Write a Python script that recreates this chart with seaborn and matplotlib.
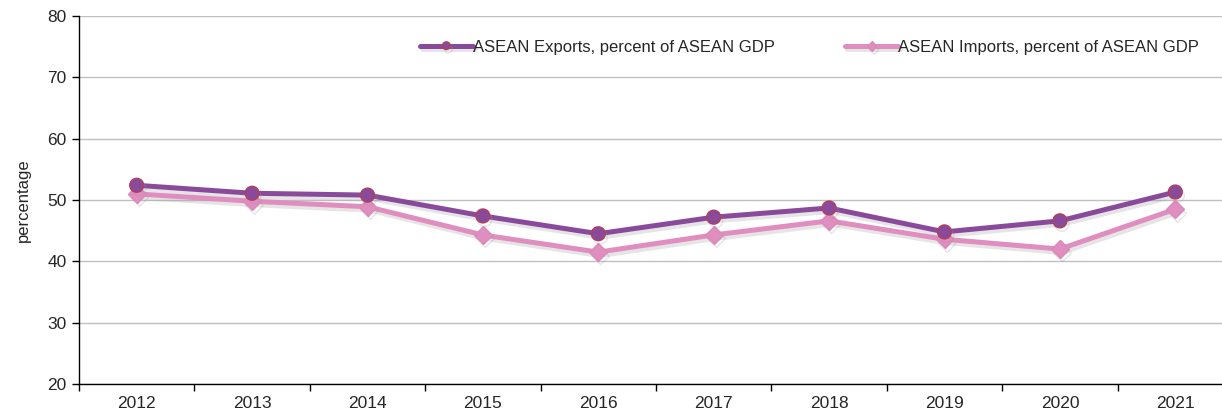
import numpy as np
import pandas as pd

import matplotlib
matplotlib.use('Agg')
import matplotlib.pyplot as plt
import matplotlib.patheffects as pe
import seaborn as sns

years = ['2012', '2013', '2014', '2015', '2016', '2017', '2018', '2019', '2020', '2021']
exports = [52.4, 51.1, 50.8, 47.4, 44.5, 47.2, 48.7, 44.8, 46.6, 51.3]
imports = [51.0, 49.8, 48.9, 44.3, 41.5, 44.3, 46.6, 43.6, 42.0, 48.5]
exp_label = 'ASEAN Exports, percent of ASEAN GDP'
imp_label = 'ASEAN Imports, percent of ASEAN GDP'

sns.set_style('white')
plt.rcParams['font.family'] = ['Liberation Sans', 'DejaVu Sans']

df = pd.DataFrame({'year': years, 'exports': exports, 'imports': imports})
df['pos'] = np.arange(len(years))

fig = plt.figure(figsize=(12.22, 4.16), dpi=100)
ax = fig.add_axes([79 / 1222, 1 - 384 / 416, (1233 - 79) / 1222, (384 - 16) / 416])

shadow = [pe.SimpleLineShadow(offset=(1.5, -2.5), shadow_color='#999999', alpha=0.25), pe.Normal()]

sns.lineplot(data=df, x='pos', y='exports', ax=ax, color='#8a4a9c', linewidth=3.6,
             marker='o', markersize=10, markerfacecolor='#8a4a9c',
             markeredgecolor='#b0405a', markeredgewidth=1.0, label=exp_label,
             path_effects=shadow, zorder=4)
sns.lineplot(data=df, x='pos', y='imports', ax=ax, color='#e08dc0', linewidth=3.6,
             marker='D', markersize=9, markerfacecolor='#e08dc0',
             markeredgecolor='#d98ab5', markeredgewidth=1.0, label=imp_label,
             path_effects=shadow, zorder=3)

ax.set_xlim(-0.5, len(years) - 0.5)
ax.set_ylim(20, 80)
ax.set_yticks(range(20, 81, 10))
ax.yaxis.grid(True, color='#c0c0c0', linewidth=1.0)
ax.set_axisbelow(True)

ax.set_xticks(df['pos'])
ax.set_xticklabels(years)
ax.set_xticks(np.arange(-0.5, len(years), 1), minor=True)
ax.tick_params(axis='x', which='major', length=0, labelsize=12.5, pad=9)
ax.tick_params(axis='x', which='minor', length=5, width=1, color='black', direction='out', bottom=True)
ax.tick_params(axis='y', length=5, width=1, color='black', direction='out', left=True, labelsize=12.5, pad=4)

ax.set_xlabel('')
ax.set_ylabel('percentage', fontsize=12, labelpad=12)

for side in ['top', 'right']:
    ax.spines[side].set_visible(False)
for side in ['left', 'bottom']:
    ax.spines[side].set_color('black')
    ax.spines[side].set_linewidth(1.0)

leg = ax.legend(loc='center left', bbox_to_anchor=(334 / 1154, 1 - 31 / 368), ncol=2,
                frameon=False, handlelength=3.2, handletextpad=0.0, columnspacing=4.2,
                borderaxespad=0, markerscale=0.55,
                prop={'family': ['Liberation Sans Narrow', 'Liberation Sans'], 'size': 12})

fig.savefig('out.png', dpi=100)
